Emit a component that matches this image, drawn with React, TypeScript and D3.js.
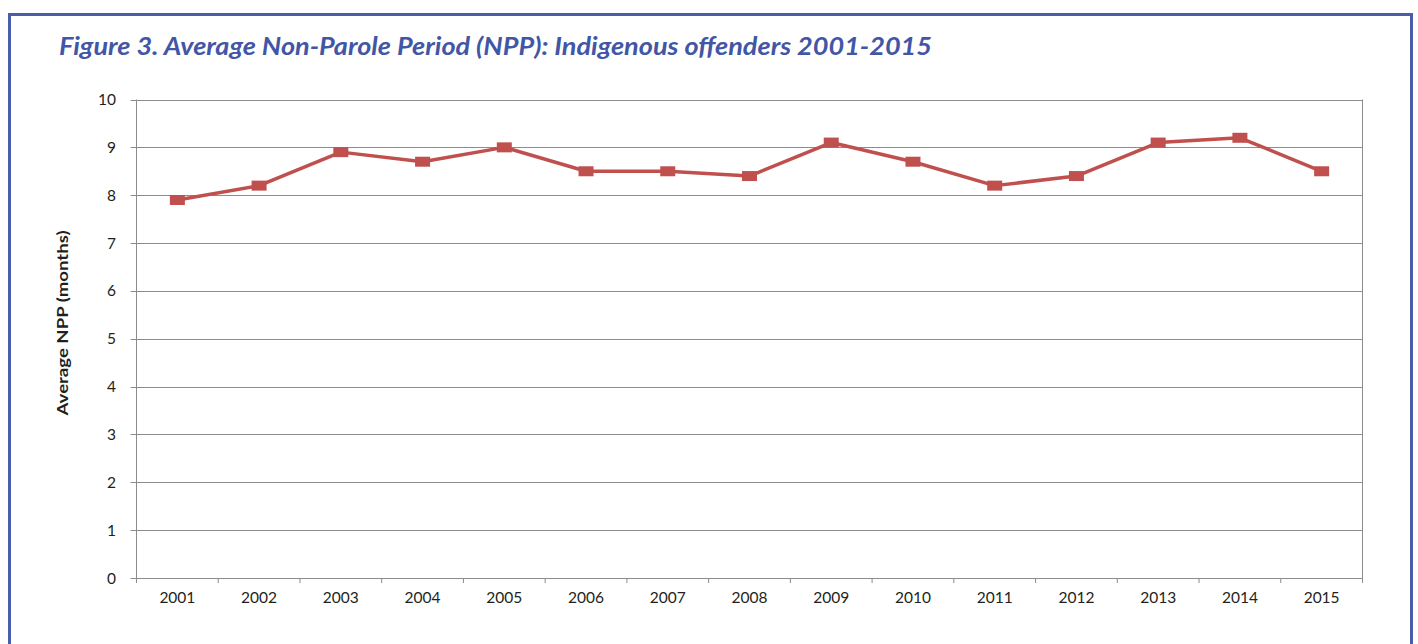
import React from "react";
import * as d3 from "d3";

const years = ["2001","2002","2003","2004","2005","2006","2007","2008","2009","2010","2011","2012","2013","2014","2015"];
const npp = [7.9, 8.2, 8.9, 8.7, 9.0, 8.5, 8.5, 8.4, 9.1, 8.7, 8.2, 8.4, 9.1, 9.2, 8.5];
const yTicks = [0,1,2,3,4,5,6,7,8,9,10];

const W = 1418, H = 644;
const left = 136.5, right = 1362.5, top = 99.5, bottom = 578;

export default function App() {
  const x = d3.scaleBand<string>().domain(years).range([left, right]).paddingInner(0).paddingOuter(0);
  const y = d3.scaleLinear().domain([0, 10]).range([bottom, top]);
  const line = d3.line<number>().x((_, i) => x(years[i])! + x.bandwidth() / 2).y(d => y(d));
  const font = "Lato, 'Open Sans', sans-serif";
  const boundaries = years.map(yr => x(yr)!).concat([right]);
  return (
    <svg width={W} height={H} style={{ position: "absolute", left: 0, top: 0, background: "#fff" }}>
      <rect x={9.5} y={14.5} width={1402} height={700} fill="none" stroke="#4a5dab" strokeWidth={3} />
      <text x={59} y={55} fill="#4256a6" fontFamily={font} fontWeight="bold" fontStyle="italic" fontSize={25} textLength={873} lengthAdjust="spacingAndGlyphs">Figure 3. Average Non-Parole Period (NPP):  Indigenous offenders 2001-2015</text>
      {yTicks.map(t => (
        <g key={t}>
          <line x1={left - 6} x2={right} y1={Math.round(y(t)) + 0.5} y2={Math.round(y(t)) + 0.5} stroke="#8c8c8c" strokeWidth={1} />
          <text x={116} y={y(t) + 5.5} textAnchor="end" fontFamily={font} fontSize={15.5} fill="#231f20">{t}</text>
        </g>
      ))}
      <line x1={left} x2={left} y1={top} y2={bottom + 5} stroke="#8c8c8c" strokeWidth={1} />
      <line x1={right} x2={right} y1={top} y2={bottom + 5} stroke="#8c8c8c" strokeWidth={1} />
      {boundaries.map((b, i) => (
        <line key={i} x1={b} x2={b} y1={bottom} y2={bottom + 5} stroke="#8c8c8c" strokeWidth={1} />
      ))}
      {years.map(yr => (
        <text key={yr} x={x(yr)! + x.bandwidth() / 2} y={bottom + 25} textAnchor="middle" fontFamily={font} fontSize={15.5} fill="#231f20">{yr}</text>
      ))}
      <text transform={`translate(67.5, 323) rotate(-90)`} textAnchor="middle" fontFamily={font} fontWeight="bold" fontSize={15.5} fill="#231f20" textLength={185} lengthAdjust="spacingAndGlyphs">Average NPP (months)</text>
      <path d={line(npp) || ""} fill="none" stroke="#c0504d" strokeWidth={3.5} strokeLinejoin="round" />
      {npp.map((v, i) => (
        <rect key={i} x={x(years[i])! + x.bandwidth() / 2 - 7.5} y={y(v) - 5} width={15} height={10} fill="#c0504d" />
      ))}
    </svg>
  );
}
